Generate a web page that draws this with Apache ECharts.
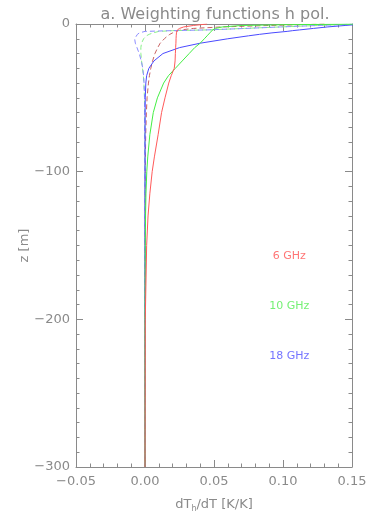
<!DOCTYPE html>
<html><head><meta charset="utf-8">
<script src="https://cdn.jsdelivr.net/npm/echarts@6/dist/echarts.min.js"></script>
<style>html,body{margin:0;padding:0;background:#fff}#c{width:374px;height:518px}</style>
</head><body><div id="c"></div>
<script>
// depth levels (m)
const depth = [0, -0.5, -1, -2, -3, -4, -4.5, -5, -6, -7, -8, -10, -13, -16, -20, -25, -30, -35, -40, -50, -60, -75, -90, -100, -115, -130, -150, -200, -300];
// solid curves
const red6 = [0.045, 0.040, 0.035, 0.028, 0.025, 0.0235, 0.0233, 0.023, 0.0228, 0.0227, 0.0226, 0.0225, 0.0224, 0.0222, 0.022, 0.0218, 0.0212, 0.019, 0.0172, 0.0145, 0.012, 0.0095, 0.0068, 0.0052, 0.0035, 0.0022, 0.0012, 0.0002, 0];
const green10 = [0.16, 0.10, 0.07, 0.056, 0.051, 0.049, 0.0485, 0.048, 0.047, 0.046, 0.045, 0.043, 0.040, 0.036, 0.032, 0.027, 0.022, 0.017, 0.0135, 0.009, 0.006, 0.0035, 0.002, 0.0013, 0.0007, 0.0004, 0.0002, 0, 0];
const blue18 = [0.165, 0.152, 0.145, 0.132, 0.122, 0.112, 0.107, 0.103, 0.092, 0.083, 0.075, 0.06, 0.04, 0.025, 0.013, 0.0065, 0.0028, 0.0012, 0.0006, 0.0002, 0.0001, 0, 0, 0, 0, 0, 0, 0, 0];
// dashed curves
const red6d = [0.13, 0.11, 0.09, 0.055, 0.035, 0.026, 0.024, 0.0225, 0.02, 0.018, 0.0165, 0.014, 0.011, 0.0092, 0.0072, 0.0055, 0.0042, 0.0032, 0.0025, 0.0015, 0.001, 0.0005, 0.0003, 0.0002, 0.0001, 0.0001, 0, 0, 0];
const green10d = [0.155, 0.14, 0.125, 0.098, 0.072, 0.045, 0.02, 0.01, 0.006, 0.003, 0.001, -0.001, -0.0025, -0.003, -0.003, -0.0025, -0.0018, -0.0012, -0.0008, -0.0004, -0.0002, -0.0001, 0, 0, 0, 0, 0, 0, 0];
const blue18d = [0.152, 0.14, 0.125, 0.098, 0.073, 0.045, 0.02, 0.0, -0.004, -0.0055, -0.0068, -0.0075, -0.007, -0.0058, -0.0042, -0.0027, -0.0016, -0.001, -0.0007, -0.0003, -0.0002, -0.0001, 0, 0, 0, 0, 0, 0, 0];
const freqLabels = ['6 GHz', '10 GHz', '18 GHz'];
const labelPos = [[0.1045, -157], [0.1045, -191], [0.1045, -225]];
const xTicks = [-0.05, 0.15, 0.05];
const yTicks = [-300, 0, 100];

const gray = '#8a8a8a';
const font = 'DejaVu Sans';
function pairs(vals){ return vals.map((v,i)=>[v, depth[i]]); }
const minus = s => String(s).replace('-', '\u2212');

const chart = echarts.init(document.getElementById('c'), null, {renderer:'canvas'});
function axisCommon(show){
  return {
    axisLine:{show:true, onZero:false, lineStyle:{color:gray, width:1}},
    axisTick:{show:true, inside:true, length:7, lineStyle:{color:gray}},
    minorTick:{show:true, length:3.5, lineStyle:{color:gray}},
    splitLine:{show:false}, minorSplitLine:{show:false},
    axisLabel:{show:show, color:gray, fontFamily:font, fontSize:13}
  };
}
const xb = Object.assign(axisCommon(true), {type:'value', position:'bottom', min:xTicks[0], max:xTicks[1], interval:xTicks[2]});
xb.minorTick.splitNumber = 5;
xb.axisLabel.margin = 8;
xb.axisLabel.formatter = v => minus(v.toFixed(2));
xb.name = '{a|dT}{s|h}{a|/dT [K/K]}';
xb.nameLocation = 'middle';
xb.nameGap = 30;
xb.nameMoveOverlap = false;
xb.nameTextStyle = {rich:{a:{color:gray, fontFamily:font, fontSize:13}, s:{color:gray, fontFamily:font, fontSize:8, padding:[8,0,0,0]}}};
const xt = Object.assign(axisCommon(false), {type:'value', position:'top', min:xTicks[0], max:xTicks[1], interval:xTicks[2]});
xt.minorTick.splitNumber = 5;
const yl = Object.assign(axisCommon(true), {type:'value', position:'left', min:yTicks[0], max:yTicks[1], interval:yTicks[2]});
yl.minorTick.splitNumber = 10;
yl.axisLabel.margin = 6;
yl.axisLabel.formatter = v => minus(v);
yl.name = 'z [m]';
yl.nameLocation = 'middle';
yl.nameGap = 45;
yl.nameMoveOverlap = false;
yl.nameRotate = 90;
yl.nameTextStyle = {color:gray, fontFamily:font, fontSize:13};
const yr = Object.assign(axisCommon(false), {type:'value', position:'right', min:yTicks[0], max:yTicks[1], interval:yTicks[2]});
yr.minorTick.splitNumber = 10;

function line(vals, color, dashed){
  return {type:'line', data:pairs(vals), xAxisIndex:0, yAxisIndex:0, showSymbol:false, symbol:'none', clip:true, animation:false,
    lineStyle:{color:color, width:1, type: dashed ? [5,3] : 'solid'}, z: dashed?2:3};
}
chart.setOption({
  animation:false,
  title:{text:'a. Weighting functions h pol.', left:210, top:2, textAlign:'center',
    textStyle:{color:gray, fontFamily:font, fontSize:16, fontWeight:'normal'}},
  grid:{left:76, right:22, top:24, bottom:48},
  xAxis:[xb, xt],
  yAxis:[yl, yr],
  series:[
    line(blue18, '#4a4aff', false),
    line(green10, '#44ee44', false),
    line(red6, '#ff5a5a', false),
    line(red6d, '#c86060', true),
    line(green10d, '#88f088', true),
    line(blue18d, '#8c8cff', true)
  ]
});
const labColors = ['#ff7575', '#75f075', '#7575ff'];
chart.setOption({graphic: freqLabels.map((t,i)=>{
  const p = chart.convertToPixel({xAxisIndex:0, yAxisIndex:0}, labelPos[i]);
  return {type:'text', x:p[0], y:p[1], style:{text:t, fill:labColors[i], font:'11px '+font, align:'center', verticalAlign:'middle'}};
})});
</script></body></html>
